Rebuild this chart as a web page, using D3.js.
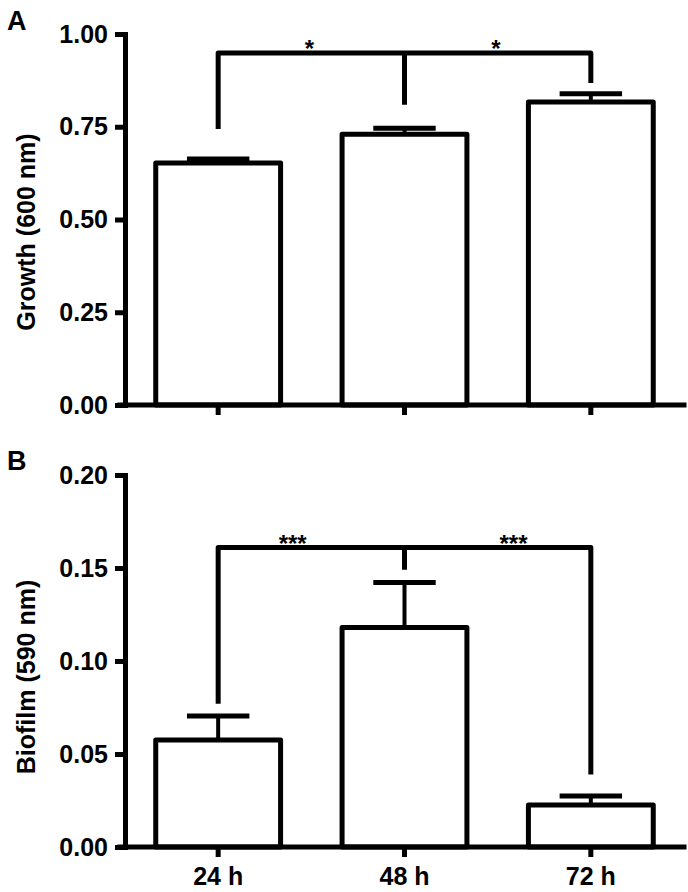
<!DOCTYPE html>
<html><head><meta charset="utf-8">
<script src="https://cdn.jsdelivr.net/npm/d3@7"></script>
<style>
html,body{margin:0;padding:0;background:#fff;}
svg{display:block;font-family:"Liberation Sans",Arial,sans-serif;}
</style></head>
<body>
<svg id="chart" width="688" height="892"></svg>
<script>
// ---- data ----
const categories = ["24 h", "48 h", "72 h"];
const growthMean = [0.652, 0.730, 0.817];
const growthErr = [0.011, 0.016, 0.022];
const biofilmMean = [0.0575, 0.118, 0.0226];
const biofilmErr = [0.0129, 0.0242, 0.0048];
const growthTicks = [0, 0.25, 0.5, 0.75, 1.0];
const biofilmTicks = [0, 0.05, 0.10, 0.15, 0.20];
// significance brackets: bracket level, leg ends (per category), star labels
const growthBracketLevel = 0.949;
const growthBracketLegs = [0.744, 0.809, 0.868];
const growthStars = ["*", "*"];
const growthStarPos = [0.49, 1.49];
const biofilmBracketLevel = 0.161;
const biofilmBracketLegs = [0.077, 0.149, 0.039];
const biofilmStars = ["***", "***"];
const biofilmStarPos = [0.40, 1.585];

const svg = d3.select("#chart");
const LW = 5;

const x = d3.scaleBand().domain(categories).range([125, 684]).paddingInner(0.33).paddingOuter(0.165);
const xc = c => x(c) + x.bandwidth() / 2;
const xi = d3.scaleLinear().domain([0, 1]).range([xc(categories[0]), xc(categories[1])]);

function panel(opts) {
  const y = d3.scaleLinear().domain(opts.domain).range(opts.range);
  const g = svg.append("g");

  // bars
  g.selectAll("rect.bar").data(opts.mean).join("rect")
    .attr("x", (d, i) => x(categories[i]))
    .attr("width", x.bandwidth())
    .attr("y", d => y(d))
    .attr("height", d => y(0) - y(d))
    .attr("fill", "#fff").attr("stroke", "#000").attr("stroke-width", LW)
    .attr("stroke-linejoin", "round");

  // error bars
  const capW = x.bandwidth() / 2;
  opts.mean.forEach((m, i) => {
    const cx = xc(categories[i]);
    g.append("line").attr("x1", cx).attr("x2", cx)
      .attr("y1", y(m)).attr("y2", y(m + opts.err[i]))
      .attr("stroke", "#000").attr("stroke-width", 4);
    g.append("line").attr("x1", cx - capW / 2).attr("x2", cx + capW / 2)
      .attr("y1", y(m + opts.err[i])).attr("y2", y(m + opts.err[i]))
      .attr("stroke", "#000").attr("stroke-width", LW);
  });

  // y axis
  const ya = g.append("g").attr("transform", "translate(125,0)")
    .call(d3.axisLeft(y).tickValues(opts.ticks).tickFormat(d3.format(".2f")).tickSize(10).tickSizeOuter(0).tickPadding(7));
  // x axis
  const xa = g.append("g").attr("transform", `translate(0,${y(0)})`)
    .call(d3.axisBottom(x).tickSize(10).tickSizeOuter(0).tickPadding(10).tickFormat(opts.xLabels ? d => d : () => ""));
  [ya, xa].forEach(a => {
    a.selectAll("path.domain").attr("stroke", "#000").attr("stroke-width", LW).attr("stroke-linecap", "square");
    a.selectAll(".tick line").attr("stroke", "#000").attr("stroke-width", LW);
    a.selectAll("text").attr("fill", "#000").attr("font-size", 25).attr("font-weight", "bold")
      .attr("font-family", "'Liberation Sans', Arial, sans-serif");
  });
  xa.select("path.domain").attr("d", `M${120},0H${684}`);

  // bracket
  const lvl = y(opts.bracketLevel);
  const x0 = xc(categories[0]), x1 = xc(categories[1]), x2 = xc(categories[2]);
  g.append("path")
    .attr("d", `M${x0},${y(opts.legs[0])}V${lvl}H${x2}V${y(opts.legs[2])}M${x1},${lvl}V${y(opts.legs[1])}`)
    .attr("fill", "none").attr("stroke", "#000").attr("stroke-width", LW)
    .attr("stroke-linejoin", "round");
  g.selectAll("text.star").data(opts.stars).join("text")
    .attr("x", (d, i) => xi(opts.starPos[i]))
    .attr("y", lvl + opts.starDy)
    .attr("text-anchor", "middle").attr("font-size", 24).attr("font-weight", "bold")
    .text(d => d);

  // y title
  g.append("text")
    .attr("transform", `translate(35,${opts.titleY}) rotate(-90)`)
    .attr("text-anchor", "middle").attr("font-size", 25).attr("font-weight", "bold")
    .text(opts.title);
  // panel letter
  g.append("text").attr("x", 7).attr("y", opts.letterY)
    .attr("font-size", 27).attr("font-weight", "bold").text(opts.letter);
}

panel({domain: [0, 1], range: [405, 34], mean: growthMean, err: growthErr, ticks: growthTicks,
  xLabels: false, bracketLevel: growthBracketLevel, legs: growthBracketLegs, stars: growthStars,
  starPos: growthStarPos, starDy: 4, title: "Growth (600 nm)", titleY: 232, letter: "A", letterY: 30});
panel({domain: [0, 0.2], range: [847, 475], mean: biofilmMean, err: biofilmErr, ticks: biofilmTicks,
  xLabels: true, bracketLevel: biofilmBracketLevel, legs: biofilmBracketLegs, stars: biofilmStars,
  starPos: biofilmStarPos, starDy: 4, title: "Biofilm (590 nm)", titleY: 677, letter: "B", letterY: 470});
</script>
</body></html>
